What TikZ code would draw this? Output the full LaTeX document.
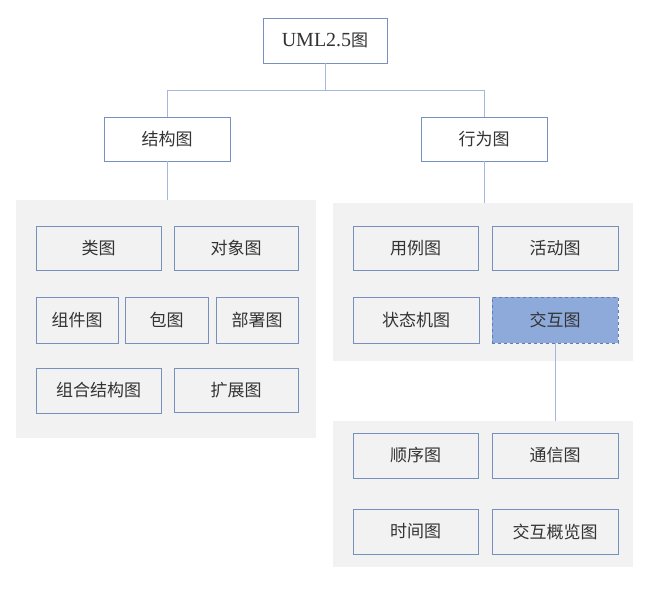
\documentclass[tikz,border=0pt]{standalone}
\usepackage{fontspec}
\newfontfamily\cjk{Noto Sans CJK SC}
\newfontfamily\latinserif{Liberation Serif}
\begin{document}
\begin{tikzpicture}[x=1pt,y=-1pt,
  every node/.style={font=\cjk\fontsize{17}{19}\selectfont, text=black!80},
  panel/.style={fill=black!5, draw=none, inner sep=0pt},
  item/.style={draw=boxblue, line width=0.9pt, fill=white, inner sep=0pt},
  itemgray/.style={draw=boxblue, line width=0.9pt, fill=black!5, inner sep=0pt},
  hot/.style={draw=hotblue, dashed, line width=0.8pt, fill=hotfill, inner sep=0pt},
  link/.style={draw=linkblue, line width=0.9pt}]
\definecolor{boxblue}{HTML}{7890BE}
\definecolor{linkblue}{HTML}{A3B8DC}
\definecolor{hotblue}{HTML}{5B7DB8}
\definecolor{hotfill}{HTML}{8EAADB}
\useasboundingbox (0,0) rectangle (650,593);

% shaded group panels
\node[panel, minimum width=300, minimum height=238] (pstruct) at (166,319) {};
\node[panel, minimum width=300, minimum height=158] (pbeh) at (483,282) {};
\node[panel, minimum width=300, minimum height=146] (pinter) at (483,494) {};

% top levels
\node[item, minimum width=124, minimum height=45] (root) at (325,40.5) {{\latinserif\fontsize{20}{22}\selectfont UML2.5}图};
\node[item, minimum width=126, minimum height=44] (struct) at (167,139) {结构图};
\node[item, minimum width=126, minimum height=44] (beh) at (484,139) {行为图};

% structure diagrams
\node[itemgray, minimum width=125, minimum height=44] (cls) at (98.5,248) {类图};
\node[itemgray, minimum width=124, minimum height=44] (obj) at (236,248) {对象图};
\node[itemgray, minimum width=82, minimum height=46] (comp) at (77,320) {组件图};
\node[itemgray, minimum width=83, minimum height=46] (pkg) at (166.5,320) {包图};
\node[itemgray, minimum width=82, minimum height=46] (dep) at (257,320) {部署图};
\node[itemgray, minimum width=125, minimum height=45] (cmp) at (98.5,390.5) {组合结构图};
\node[itemgray, minimum width=124, minimum height=44] (ext) at (236,390) {扩展图};

% behaviour diagrams
\node[itemgray, minimum width=125, minimum height=44] (uc) at (415.5,248) {用例图};
\node[itemgray, minimum width=126, minimum height=44] (act) at (555,248) {活动图};
\node[itemgray, minimum width=126, minimum height=46] (sm) at (416,320) {状态机图};
\node[hot, minimum width=126, minimum height=46] (inter) at (555,320) {交互图};

% interaction diagrams
\node[itemgray, minimum width=125, minimum height=45] (seq) at (415.5,455.5) {顺序图};
\node[itemgray, minimum width=126, minimum height=45] (com) at (555,455.5) {通信图};
\node[itemgray, minimum width=125, minimum height=45] (tim) at (415.5,531.5) {时间图};
\node[itemgray, minimum width=126, minimum height=45] (ovw) at (555,531.5) {交互概览图};

% connectors
\coordinate (fork) at (325,90);
\draw[link] (root.south) -- (fork);
\draw[link] (fork) -| (struct.north);
\draw[link] (fork) -| (beh.north);
\draw[link] (struct.south) -- (struct.south |- pstruct.north);
\draw[link] (beh.south) -- (beh.south |- pbeh.north);
\draw[link] (inter.south) -- (inter.south |- pinter.north);
\end{tikzpicture}
\end{document}
